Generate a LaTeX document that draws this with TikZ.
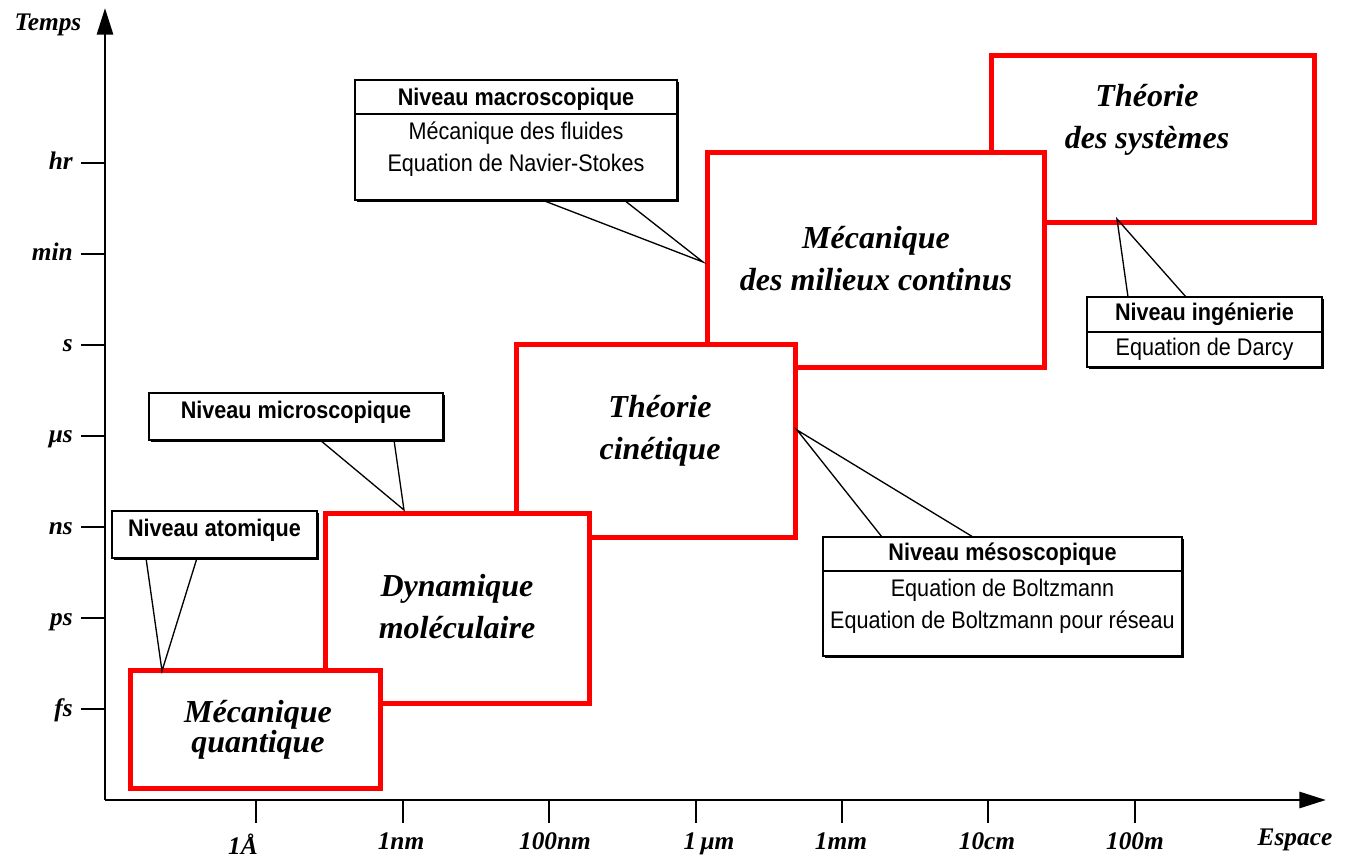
\documentclass[tikz,border=0pt]{standalone}
\usepackage{fontspec}
\setmainfont{Liberation Serif}
\setsansfont{Liberation Sans}
\newfontfamily\callfont[FakeStretch=0.9]{Liberation Sans}
\usetikzlibrary{arrows.meta, positioning, fit, calc, shadows}

\begin{document}
\begin{tikzpicture}[
        x=0.75pt, y=-0.75pt,
        axisline/.style={line width=2.2pt, -{Triangle[length=20pt, width=12pt]}},
        tickmark/.style={line width=1.8pt},
        unitlbl/.style={inner sep=0pt, font=\fontsize{19}{22}\selectfont\bfseries\itshape},
        zone/.style={draw=red, line width=3.75pt, fill=white, inner sep=0pt, outer sep=0pt},
        zonetxt/.style={align=center, inner sep=0pt, font=\fontsize{24}{31.5}\selectfont\bfseries\itshape},
        callout/.style={draw, line width=1.2pt, fill=white, inner sep=0pt, outer sep=0pt,
            drop shadow={shadow xshift=1.5pt, shadow yshift=-1.5pt, opacity=1, fill=black}},
        callhead/.style={inner sep=0pt, font=\callfont\bfseries\fontsize{18}{20}\selectfont},
        calltxt/.style={align=center, inner sep=0pt, font=\callfont\fontsize{18}{23.6}\selectfont},
        pointer/.style={line width=1pt}
    ]
        \useasboundingbox (0,0) rectangle (1347,859);

        % axes
        \coordinate (O) at (105,800);
        \coordinate (ytop) at (105,8);
        \coordinate (xend) at (1326,800);
        \draw[axisline] (O) -- (ytop);
        \draw[axisline] (O) -- (xend);
        \node[unitlbl] (temps) at (48,25) {Temps};
        \node[unitlbl] (espace) at (1295,840) {Espace};

        \foreach \y/\t [count=\i] in {709/fs, 618/ps, 527/ns, 436/μs, 345/s, 254/min, 163/hr} {
            \draw[tickmark] (81,\y) -- (105,\y);
            \node[unitlbl, anchor=base east] (yl\i) at (73,\y+7) {\t};
        }
        \foreach \x/\c/\b/\t [count=\i] in {256/243/854/1Å, 403/401/849/1nm, 549/555/849/100nm,
                696/709/849/1\,μm, 842/841/849/1mm, 988/987/849/10cm, 1135/1135/849/100m} {
            \draw[tickmark] (\x,800) -- (\x,823);
            \node[unitlbl, anchor=base] (xl\i) at (\c,\b) {\t};
        }

        % domaines
        \node[zone, fit={(991,56) (1314,223)}] (sys) {};
        \node[zone, fit={(707,153) (1044,368)}] (mmc) {};
        \node[zone, fit={(516,345) (795,537)}] (cin) {};
        \node[zone, fit={(325,513) (589,703)}] (dyn) {};
        \node[zone, fit={(130,670) (380,788)}] (qua) {};

        \node[zonetxt] (systxt) at (1147,120) {Théorie\\des systèmes};
        \node[zonetxt] (mmctxt) at (876,259) {Mécanique\\des milieux continus};
        \node[zonetxt] (cintxt) at (660,431) {Théorie\\cinétique};
        \node[zonetxt] (dyntxt) at (457,607) {Dynamique\\moléculaire};
        \node[zonetxt, font=\fontsize{24}{21.75}\selectfont\bfseries\itshape] (quatxt) at (258,730) {Mécanique\\quantique};

        % niveaux
        \node[callout, fit={(112,511) (317,558)}] (atom) {};
        \node[callhead, yshift=3pt] (atomlbl) at (atom) {Niveau atomique};
        \node[callout, fit={(149,393) (443,440)}] (micro) {};
        \node[callhead, yshift=3pt] (microlbl) at (micro) {Niveau microscopique};

        \node[callout, fit={(355,80) (677,114)}] (macrohd) {};
        \node[callhead, yshift=-1.5pt] (macrolbl) at (macrohd) {Niveau macroscopique};
        \node[callout, fit={(355,114) (677,200)}] (macro) {};
        \node[calltxt, below=6pt of macro.north] (macrotxt) {Mécanique des fluides\\Equation de Navier-Stokes};

        \node[callout, fit={(823,537) (1182,571)}] (mesohd) {};
        \node[callhead] (mesolbl) at (mesohd) {Niveau mésoscopique};
        \node[callout, fit={(823,571) (1182,656)}] (meso) {};
        \node[calltxt, below=6pt of meso.north] (mesotxt) {Equation de Boltzmann\\Equation de Boltzmann pour réseau};

        \node[callout, fit={(1087,297) (1322,332)}] (inghd) {};
        \node[callhead] (inglbl) at (inghd) {Niveau ingénierie};
        \node[callout, fit={(1087,332) (1322,367)}] (ing) {};
        \node[calltxt] (ingtxt) at (ing) {Equation de Darcy};

        % pointeurs
        \coordinate (atomtip) at (162,671);
        \coordinate (microtip) at (404,510);
        \coordinate (macrotip) at (703,262);
        \coordinate (mesotip) at (797,430);
        \coordinate (ingtip) at (1117,219);

        \draw[pointer] ($(atom.south west)+(34,0)$) -- (atomtip) -- ($(atom.south west)+(85,0)$);
        \draw[pointer] ($(micro.south west)+(171,0)$) -- (microtip) -- ($(micro.south west)+(245,0)$);
        \draw[pointer] ($(macro.south west)+(187,0)$) -- (macrotip) -- ($(macro.south west)+(269,0)$);
        \draw[pointer] ($(mesohd.north west)+(59,0)$) -- (mesotip) -- ($(mesohd.north west)+(150,0)$);
        \draw[pointer] ($(inghd.north west)+(41,0)$) -- (ingtip) -- ($(inghd.north west)+(99,0)$);
    \end{tikzpicture}
\end{document}
